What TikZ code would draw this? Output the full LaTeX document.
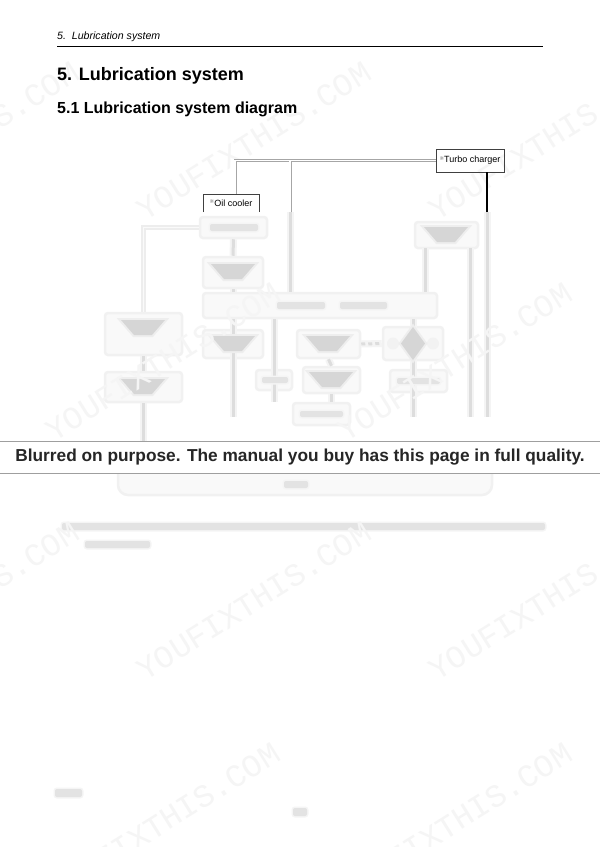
\documentclass[tikz,border=0pt]{standalone}
\usepackage{fontspec}
\setmainfont{Liberation Sans}
\newfontfamily\markfont{DejaVu Sans}
\newfontfamily\wmfont{Liberation Mono}

\newcommand\refmark{{\markfont\color{gray}\fontsize{5.5}{6}\selectfont\raisebox{2.5pt}{※}}}
\newcommand\filtsym[2]{%
  \fill[blursym] (#1-22,#2-8) -- (#1+22,#2-8) -- (#1+9,#2+7) -- (#1-9,#2+7) -- cycle;}

\tikzset{
  crisp/.style={draw=black!75, line width=0.6pt, inner sep=1pt, font=\fontsize{9}{10}\selectfont},
  dbl/.style={draw=gray!70, line width=0.9pt, double=white, double distance=1.2pt},
  blurbox/.style={draw=gray!11, line width=2.5pt, fill=gray!5, rounded corners=3pt},
  pipe/.style={draw=gray!27, line width=3pt, preaction={draw=gray!9, line width=7pt}},
  lightpipe/.style={draw=gray!14, line width=1.5pt, double=gray!4, double distance=1.5pt},
  blursym/.style={fill=gray!32, preaction={draw=gray!13, line width=4pt}},
  blurtext/.style={fill=gray!22, rounded corners=2pt, preaction={draw=gray!8, line width=3pt}},
  wm/.style={text=gray!8, font=\wmfont\fontsize{32}{32}\selectfont, rotate=32}
}

\begin{document}
\begin{tikzpicture}[x=1pt, y=-1pt]
    \useasboundingbox (0,0) rectangle (600,847);
    \fill[white] (0,0) rectangle (600,847);

    \node[blurbox, minimum width=67pt, minimum height=21pt] (strainer) at (233.5,227.5) {};
    \node[blurbox, minimum width=60pt, minimum height=31pt] (filterA) at (233,272.5) {};
    \node[blurbox, minimum width=234pt, minimum height=25pt] (mainline) at (320,305.5) {};
    \node[blurbox, minimum width=63pt, minimum height=26pt] (cooler) at (446.5,235) {};
    \node[blurbox, minimum width=77pt, minimum height=42pt] (leftA) at (143.5,334) {};
    \node[blurbox, minimum width=77pt, minimum height=30pt] (leftB) at (143.5,387) {};
    \node[blurbox, minimum width=60pt, minimum height=28pt] (midC) at (233,344) {};
    \node[blurbox, minimum width=36pt, minimum height=20pt] (smallF) at (274,380) {};
    \node[blurbox, minimum width=63pt, minimum height=28pt] (midD) at (328.5,344) {};
    \node[blurbox, minimum width=60pt, minimum height=33pt] (valve) at (413,343.5) {};
    \node[blurbox, minimum width=57pt, minimum height=26pt] (midE) at (331.5,380) {};
    \node[blurbox, minimum width=57pt, minimum height=22pt] (midG) at (321.5,414) {};
    \node[blurbox, minimum width=57pt, minimum height=22pt] (rightH) at (418.5,381) {};
    \node[blurbox, rounded corners=10pt, minimum width=374pt, minimum height=40pt] (oilpan) at (305,475) {};

    \coordinate (junc) at (290,161);
    \coordinate (juncb) at (290,212);
    \coordinate (ocin) at (235,194);
    \coordinate (p425) at (425,248);
    \coordinate (p470) at (470,248);
    \coordinate (tbtop) at (487,172);
    \coordinate (tbcut) at (487,212);
    \coordinate (pend) at (0,417);

    \draw[lightpipe] (strainer.west) -| (leftA.north);
    \draw[pipe] (strainer.south) -- (filterA.north);
    \draw[pipe] (filterA.south) -- (filterA.south |- mainline.north);
    \draw[pipe] (juncb) -- (juncb |- mainline.north);
    \draw[pipe] (p425) -- (p425 |- mainline.north);
    \draw[pipe] (p470) -- (p470 |- pend);
    \draw[pipe] (tbcut) -- (tbcut |- pend);
    \draw[pipe] (leftA.south) -- (leftB.north);
    \draw[pipe] (leftB.south) -- (leftB.south |- oilpan.north);
    \draw[pipe] (mainline.south -| midC) -- (midC |- pend);
    \draw[pipe] (mainline.south -| smallF) -- (smallF |- midG.north);
    \draw[pipe] (midD.south) -- (midE.north);
    \draw[pipe] (midE.south) -- (midE.south |- midG.north);
    \draw[pipe, dash pattern=on 4pt off 3pt] (midD.east) -- (valve.west);
    \draw[pipe] (mainline.south -| valve) -- (valve |- pend);

    \filtsym{233}{272}
    \filtsym{233}{344}
    \filtsym{328}{344}
    \filtsym{331}{380}
    \filtsym{143}{328}
    \filtsym{143}{387}
    \filtsym{446}{235}
    \fill[gray!10] (393,343.5) circle (6) (433,343.5) circle (6);
    \fill[blursym] (413,327) -- (425,343.5) -- (413,360) -- (401,343.5) -- cycle;

    \fill[blurtext] (210,224) rectangle (258,231);
    \fill[blurtext] (277,302) rectangle (325,309);
    \fill[blurtext] (340,302) rectangle (387,309);
    \fill[blurtext] (262,377) rectangle (288,383);
    \fill[blurtext] (300,411) rectangle (343,417);
    \fill[blurtext] (397,378) rectangle (440,384);
    \fill[blurtext] (284,481) rectangle (308,488);
    \fill[blurtext] (62,523) rectangle (545,530);
    \fill[blurtext] (85,541) rectangle (150,548);
    \fill[blurtext] (55,789) rectangle (82,797);
    \fill[blurtext] (293,808) rectangle (307,816);

    \foreach \cx/\cy in {-38/141, 254/141, 546/141, 163/362, 455/362,
                         -38/601, 254/601, 546/601, 163/822, 455/822}
      \node[wm] at (\cx,\cy) {YOUFIXTHIS.COM};

    \node[anchor=west, inner sep=0pt, font=\fontsize{10.6}{12}\selectfont\itshape] (head) at (57,37) {5.\ \ Lubrication system};
    \draw[line width=0.8pt] (57,46) -- (543,46);
    \node[anchor=west, inner sep=0pt, font=\bfseries\fontsize{18}{21}\selectfont] (title) at (57,76) {5. Lubrication system};
    \node[anchor=west, inner sep=0pt, font=\bfseries\fontsize{16}{19}\selectfont] (subtitle) at (57,109) {5.1 Lubrication system diagram};

    \node[crisp, minimum width=68pt, minimum height=23pt] (turbo) at (470,160.5) {\refmark Turbo charger};
    \node[minimum width=56pt, minimum height=18pt, inner sep=1pt, font=\fontsize{9}{10}\selectfont] (oilcooler) at (231,203) {\refmark Oil cooler};
    \draw[black!75, line width=0.6pt] (oilcooler.south west) -- (oilcooler.north west) -- (oilcooler.north east) -- (oilcooler.south east);

    \draw[dbl] (ocin) -- (ocin |- turbo.west) -- (turbo.west);
    \draw[dbl] (junc) -- (juncb);
    \draw[line width=1.2pt] (tbtop) -- (tbcut);

    \fill[white] (0,441) rectangle (600,473);
    \draw[gray!75, line width=1pt] (0,441) -- (600,441) (0,473) -- (600,473);
    \node[font=\bfseries\fontsize{17.3}{20}\selectfont, text=black!85] (banner) at (300,457) {Blurred on purpose. The manual you buy has this page in full quality.};
\end{tikzpicture}
\end{document}
